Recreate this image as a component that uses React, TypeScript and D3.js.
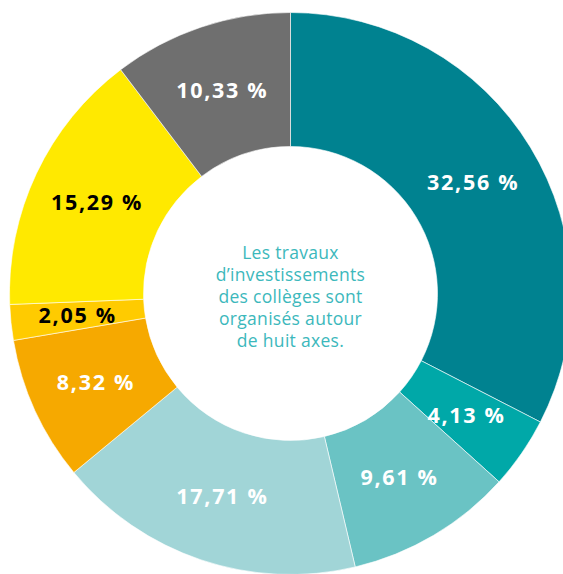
import React from "react";
import * as d3 from "d3";

const labels = ["32,56 %", "4,13 %", "9,61 %", "17,71 %", "8,32 %", "2,05 %", "15,29 %", "10,33 %"];
const values = [32.56, 4.13, 9.61, 17.71, 8.32, 2.05, 15.29, 10.33];
const colors = ["#008290", "#00A8A8", "#6AC3C4", "#A1D5D7", "#F6A900", "#FFCB00", "#FFE900", "#6F6F6F"];
const textColors = ["#fff", "#fff", "#fff", "#fff", "#fff", "#000", "#000", "#fff"];
const centerLines = ["Les travaux", "d’investissements", "des collèges sont", "organisés autour", "de huit axes."];

export default function App() {
  const W = 563, H = 574;
  const cx = 290.5, cy = 293.5, R = 281, r = 147;
  const pie = d3.pie<number>().sort(null).value((d) => d);
  const arcs = pie(values);
  const arc = d3.arc<d3.PieArcDatum<number>>().innerRadius(r).outerRadius(R);
  const labelArc = d3.arc<d3.PieArcDatum<number>>().innerRadius(r).outerRadius(R);
  return (
    <svg width={W} height={H} style={{ position: "absolute", left: 0, top: 0 }}>
      <g transform={`translate(${cx},${cy})`}>
        {arcs.map((a, i) => (
          <path key={i} d={arc(a) || ""} fill={colors[i]} stroke="#fff" strokeWidth={0.6} />
        ))}
        {arcs.map((a, i) => {
          const [x, y] = labelArc.centroid(a);
          return (
            <text key={i} x={x} y={y} dy="0.36em" textAnchor="middle" fill={textColors[i]}
              fontFamily="'Open Sans', sans-serif" fontWeight={700} fontSize={21.5} letterSpacing={1.7}>
              {labels[i]}
            </text>
          );
        })}
        <text textAnchor="middle" fill="#3CB8BC" fontFamily="'Open Sans', sans-serif"
          fontWeight={400} fontSize={17.5} letterSpacing={0.3}>
          {centerLines.map((t, i) => (
            <tspan key={i} x={0} y={-35 + i * 22.2}>{t}</tspan>
          ))}
        </text>
      </g>
    </svg>
  );
}
